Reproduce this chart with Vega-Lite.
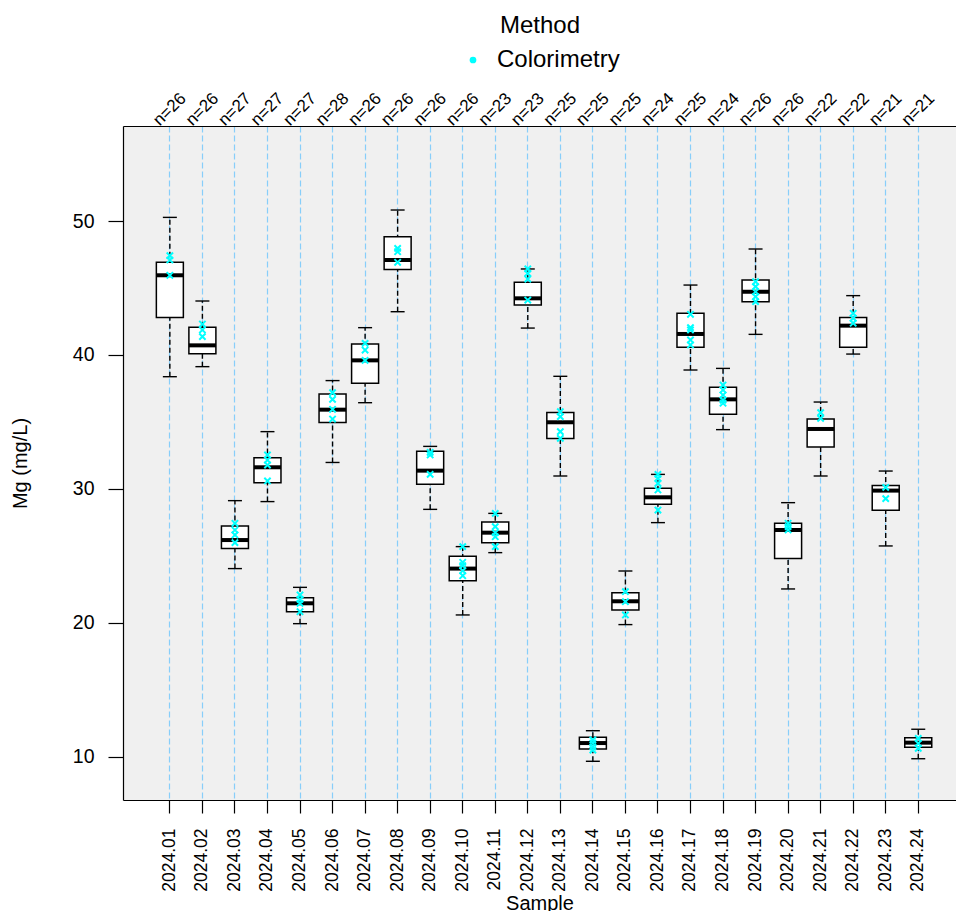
{
  "$schema": "https://vega.github.io/schema/vega-lite/v6.json",
  "width": 833,
  "height": 674,
  "autosize": "none",
  "padding": {"left": 123, "top": 126, "right": 0, "bottom": 111},
  "config": {
    "view": {"fill": "#f0f0f0", "stroke": null},
    "font": "Liberation Sans",
    "axis": {"domainColor": "#000000", "tickColor": "#000000", "labelColor": "#000000", "titleColor": "#000000", "labelFont": "Liberation Sans", "titleFont": "Liberation Sans", "titleFontWeight": "normal", "domainWidth": 1.2, "tickWidth": 1.2, "labelOverlap": false},
    "legend": {"labelFont": "Liberation Sans", "titleFont": "Liberation Sans"}
  },
  "datasets": {
    "summary": [
      {"Sample": "2024.01", "Key": "2024.01|n=26", "lo": 38.38, "q1": 42.79, "med": 45.95, "q3": 46.92, "hi": 50.27},
      {"Sample": "2024.02", "Key": "2024.02|n=26", "lo": 39.13, "q1": 40.10, "med": 40.72, "q3": 42.07, "hi": 44.03},
      {"Sample": "2024.03", "Key": "2024.03|n=27", "lo": 24.06, "q1": 25.55, "med": 26.19, "q3": 27.24, "hi": 29.13},
      {"Sample": "2024.04", "Key": "2024.04|n=27", "lo": 29.06, "q1": 30.47, "med": 31.62, "q3": 32.34, "hi": 34.28},
      {"Sample": "2024.05", "Key": "2024.05|n=27", "lo": 19.95, "q1": 20.84, "med": 21.47, "q3": 21.89, "hi": 22.66},
      {"Sample": "2024.06", "Key": "2024.06|n=28", "lo": 31.98, "q1": 34.97, "med": 35.92, "q3": 37.09, "hi": 38.09},
      {"Sample": "2024.07", "Key": "2024.07|n=26", "lo": 36.44, "q1": 37.89, "med": 39.60, "q3": 40.82, "hi": 42.04},
      {"Sample": "2024.08", "Key": "2024.08|n=26", "lo": 43.23, "q1": 46.39, "med": 47.09, "q3": 48.83, "hi": 50.82},
      {"Sample": "2024.09", "Key": "2024.09|n=26", "lo": 28.48, "q1": 30.35, "med": 31.37, "q3": 32.81, "hi": 33.18},
      {"Sample": "2024.10", "Key": "2024.10|n=26", "lo": 20.60, "q1": 23.16, "med": 24.06, "q3": 24.98, "hi": 25.70},
      {"Sample": "2024.11", "Key": "2024.11|n=23", "lo": 25.25, "q1": 25.99, "med": 26.74, "q3": 27.54, "hi": 28.18},
      {"Sample": "2024.12", "Key": "2024.12|n=23", "lo": 42.01, "q1": 43.73, "med": 44.23, "q3": 45.42, "hi": 46.42},
      {"Sample": "2024.13", "Key": "2024.13|n=25", "lo": 30.97, "q1": 33.76, "med": 34.98, "q3": 35.70, "hi": 38.41},
      {"Sample": "2024.14", "Key": "2024.14|n=25", "lo": 9.68, "q1": 10.60, "med": 11.04, "q3": 11.47, "hi": 11.96},
      {"Sample": "2024.15", "Key": "2024.15|n=25", "lo": 19.88, "q1": 20.97, "med": 21.62, "q3": 22.26, "hi": 23.88},
      {"Sample": "2024.16", "Key": "2024.16|n=24", "lo": 27.49, "q1": 28.86, "med": 29.38, "q3": 30.05, "hi": 31.09},
      {"Sample": "2024.17", "Key": "2024.17|n=25", "lo": 38.88, "q1": 40.57, "med": 41.57, "q3": 43.11, "hi": 45.22},
      {"Sample": "2024.18", "Key": "2024.18|n=24", "lo": 34.43, "q1": 35.57, "med": 36.69, "q3": 37.59, "hi": 39.00},
      {"Sample": "2024.19", "Key": "2024.19|n=26", "lo": 41.54, "q1": 43.98, "med": 44.72, "q3": 45.60, "hi": 47.91},
      {"Sample": "2024.20", "Key": "2024.20|n=26", "lo": 22.54, "q1": 24.82, "med": 26.94, "q3": 27.44, "hi": 28.98},
      {"Sample": "2024.21", "Key": "2024.21|n=22", "lo": 30.97, "q1": 33.13, "med": 34.48, "q3": 35.22, "hi": 36.49},
      {"Sample": "2024.22", "Key": "2024.22|n=22", "lo": 40.07, "q1": 40.57, "med": 42.19, "q3": 42.79, "hi": 44.43},
      {"Sample": "2024.23", "Key": "2024.23|n=21", "lo": 25.75, "q1": 28.41, "med": 29.88, "q3": 30.27, "hi": 31.34},
      {"Sample": "2024.24", "Key": "2024.24|n=21", "lo": 9.87, "q1": 10.72, "med": 11.07, "q3": 11.44, "hi": 12.07}
    ],
    "points": [
      {"Sample": "2024.01", "Method": "Colorimetry", "Mg": 47.41},
      {"Sample": "2024.01", "Method": "Colorimetry", "Mg": 47.09},
      {"Sample": "2024.01", "Method": "Colorimetry", "Mg": 45.95},
      {"Sample": "2024.02", "Method": "Colorimetry", "Mg": 42.31},
      {"Sample": "2024.02", "Method": "Colorimetry", "Mg": 41.87},
      {"Sample": "2024.02", "Method": "Colorimetry", "Mg": 41.37},
      {"Sample": "2024.03", "Method": "Colorimetry", "Mg": 27.44},
      {"Sample": "2024.03", "Method": "Colorimetry", "Mg": 26.94},
      {"Sample": "2024.03", "Method": "Colorimetry", "Mg": 26.57},
      {"Sample": "2024.03", "Method": "Colorimetry", "Mg": 26.00},
      {"Sample": "2024.04", "Method": "Colorimetry", "Mg": 32.54},
      {"Sample": "2024.04", "Method": "Colorimetry", "Mg": 32.16},
      {"Sample": "2024.04", "Method": "Colorimetry", "Mg": 31.79},
      {"Sample": "2024.04", "Method": "Colorimetry", "Mg": 30.60},
      {"Sample": "2024.05", "Method": "Colorimetry", "Mg": 22.09},
      {"Sample": "2024.05", "Method": "Colorimetry", "Mg": 21.77},
      {"Sample": "2024.05", "Method": "Colorimetry", "Mg": 21.47},
      {"Sample": "2024.05", "Method": "Colorimetry", "Mg": 20.84},
      {"Sample": "2024.06", "Method": "Colorimetry", "Mg": 37.19},
      {"Sample": "2024.06", "Method": "Colorimetry", "Mg": 36.69},
      {"Sample": "2024.06", "Method": "Colorimetry", "Mg": 35.95},
      {"Sample": "2024.06", "Method": "Colorimetry", "Mg": 35.22},
      {"Sample": "2024.07", "Method": "Colorimetry", "Mg": 40.87},
      {"Sample": "2024.07", "Method": "Colorimetry", "Mg": 40.37},
      {"Sample": "2024.07", "Method": "Colorimetry", "Mg": 39.60},
      {"Sample": "2024.08", "Method": "Colorimetry", "Mg": 47.96},
      {"Sample": "2024.08", "Method": "Colorimetry", "Mg": 47.71},
      {"Sample": "2024.08", "Method": "Colorimetry", "Mg": 46.92},
      {"Sample": "2024.09", "Method": "Colorimetry", "Mg": 32.74},
      {"Sample": "2024.09", "Method": "Colorimetry", "Mg": 32.54},
      {"Sample": "2024.09", "Method": "Colorimetry", "Mg": 31.09},
      {"Sample": "2024.10", "Method": "Colorimetry", "Mg": 25.70},
      {"Sample": "2024.10", "Method": "Colorimetry", "Mg": 24.53},
      {"Sample": "2024.10", "Method": "Colorimetry", "Mg": 24.28},
      {"Sample": "2024.10", "Method": "Colorimetry", "Mg": 23.90},
      {"Sample": "2024.10", "Method": "Colorimetry", "Mg": 23.53},
      {"Sample": "2024.11", "Method": "Colorimetry", "Mg": 28.18},
      {"Sample": "2024.11", "Method": "Colorimetry", "Mg": 27.19},
      {"Sample": "2024.11", "Method": "Colorimetry", "Mg": 26.74},
      {"Sample": "2024.11", "Method": "Colorimetry", "Mg": 26.44},
      {"Sample": "2024.11", "Method": "Colorimetry", "Mg": 25.70},
      {"Sample": "2024.12", "Method": "Colorimetry", "Mg": 46.42},
      {"Sample": "2024.12", "Method": "Colorimetry", "Mg": 46.10},
      {"Sample": "2024.12", "Method": "Colorimetry", "Mg": 45.67},
      {"Sample": "2024.12", "Method": "Colorimetry", "Mg": 44.10},
      {"Sample": "2024.13", "Method": "Colorimetry", "Mg": 35.77},
      {"Sample": "2024.13", "Method": "Colorimetry", "Mg": 35.40},
      {"Sample": "2024.13", "Method": "Colorimetry", "Mg": 34.28},
      {"Sample": "2024.13", "Method": "Colorimetry", "Mg": 33.78},
      {"Sample": "2024.14", "Method": "Colorimetry", "Mg": 11.27},
      {"Sample": "2024.14", "Method": "Colorimetry", "Mg": 11.04},
      {"Sample": "2024.14", "Method": "Colorimetry", "Mg": 10.75},
      {"Sample": "2024.14", "Method": "Colorimetry", "Mg": 10.52},
      {"Sample": "2024.15", "Method": "Colorimetry", "Mg": 22.34},
      {"Sample": "2024.15", "Method": "Colorimetry", "Mg": 21.59},
      {"Sample": "2024.15", "Method": "Colorimetry", "Mg": 20.60},
      {"Sample": "2024.16", "Method": "Colorimetry", "Mg": 31.09},
      {"Sample": "2024.16", "Method": "Colorimetry", "Mg": 30.79},
      {"Sample": "2024.16", "Method": "Colorimetry", "Mg": 30.42},
      {"Sample": "2024.16", "Method": "Colorimetry", "Mg": 29.93},
      {"Sample": "2024.16", "Method": "Colorimetry", "Mg": 28.43},
      {"Sample": "2024.17", "Method": "Colorimetry", "Mg": 43.04},
      {"Sample": "2024.17", "Method": "Colorimetry", "Mg": 42.04},
      {"Sample": "2024.17", "Method": "Colorimetry", "Mg": 41.87},
      {"Sample": "2024.17", "Method": "Colorimetry", "Mg": 41.12},
      {"Sample": "2024.17", "Method": "Colorimetry", "Mg": 40.75},
      {"Sample": "2024.18", "Method": "Colorimetry", "Mg": 37.76},
      {"Sample": "2024.18", "Method": "Colorimetry", "Mg": 37.39},
      {"Sample": "2024.18", "Method": "Colorimetry", "Mg": 37.01},
      {"Sample": "2024.18", "Method": "Colorimetry", "Mg": 36.64},
      {"Sample": "2024.18", "Method": "Colorimetry", "Mg": 36.40},
      {"Sample": "2024.19", "Method": "Colorimetry", "Mg": 45.47},
      {"Sample": "2024.19", "Method": "Colorimetry", "Mg": 45.10},
      {"Sample": "2024.19", "Method": "Colorimetry", "Mg": 44.72},
      {"Sample": "2024.19", "Method": "Colorimetry", "Mg": 44.35},
      {"Sample": "2024.19", "Method": "Colorimetry", "Mg": 43.98},
      {"Sample": "2024.20", "Method": "Colorimetry", "Mg": 27.44},
      {"Sample": "2024.20", "Method": "Colorimetry", "Mg": 27.19},
      {"Sample": "2024.20", "Method": "Colorimetry", "Mg": 26.94},
      {"Sample": "2024.21", "Method": "Colorimetry", "Mg": 35.70},
      {"Sample": "2024.21", "Method": "Colorimetry", "Mg": 35.27},
      {"Sample": "2024.22", "Method": "Colorimetry", "Mg": 43.11},
      {"Sample": "2024.22", "Method": "Colorimetry", "Mg": 42.74},
      {"Sample": "2024.22", "Method": "Colorimetry", "Mg": 42.37},
      {"Sample": "2024.23", "Method": "Colorimetry", "Mg": 30.12},
      {"Sample": "2024.23", "Method": "Colorimetry", "Mg": 29.28},
      {"Sample": "2024.24", "Method": "Colorimetry", "Mg": 11.39},
      {"Sample": "2024.24", "Method": "Colorimetry", "Mg": 11.01},
      {"Sample": "2024.24", "Method": "Colorimetry", "Mg": 10.64}
    ]
  },
  "layer": [
    {
      "data": {"name": "summary"},
      "mark": {"type": "point", "opacity": 0},
      "encoding": {
        "x": {
          "field": "Key", "type": "ordinal", "sort": null,
          "scale": {"type": "band", "paddingInner": 0.4, "paddingOuter": 1.0, "align": 0.57},
          "axis": {
            "orient": "top", "title": null, "ticks": false, "grid": true, "bandPosition": 0.5,
            "gridColor": "#87cefa", "gridDash": [6, 3], "gridWidth": 1.2,
            "labelExpr": "split(datum.value, '|')[1]",
            "labelAngle": -45, "labelAlign": "center", "labelBaseline": "middle",
            "labelPadding": 17, "labelFontSize": 17
          }
        }
      }
    },
    {
      "data": {"name": "summary"},
      "layer": [
        {
          "mark": {"type": "rule", "color": "#000000", "strokeDash": [5, 3], "strokeWidth": 1.4, "opacity": 1},
          "encoding": {"y": {"field": "lo", "type": "quantitative"}, "y2": {"field": "hi"}}
        },
        {
          "mark": {"type": "tick", "color": "#000000", "size": 14, "thickness": 1.4, "opacity": 1},
          "encoding": {"y": {"field": "lo", "type": "quantitative"}}
        },
        {
          "mark": {"type": "tick", "color": "#000000", "size": 14, "thickness": 1.4, "opacity": 1},
          "encoding": {"y": {"field": "hi", "type": "quantitative"}}
        },
        {
          "mark": {"type": "bar", "size": 27, "fill": "#ffffff", "stroke": "#000000", "strokeWidth": 1.5, "opacity": 1},
          "encoding": {"y": {"field": "q1", "type": "quantitative"}, "y2": {"field": "q3"}}
        },
        {
          "mark": {"type": "tick", "color": "#000000", "size": 27, "thickness": 4, "opacity": 1},
          "encoding": {"y": {"field": "med", "type": "quantitative"}}
        },
        {
          "data": {"name": "points"},
          "mark": {"type": "point", "shape": "M-1,-1L1,1M-1,1L1,-1", "filled": true, "stroke": "#00ffff", "size": 40, "strokeWidth": 2, "opacity": 1},
          "encoding": {
            "y": {"field": "Mg", "type": "quantitative"},
            "color": {
              "field": "Method", "type": "nominal",
              "scale": {"domain": ["Colorimetry"], "range": ["#00ffff"]},
              "legend": {
                "orient": "none", "legendX": 338, "legendY": -112,
                "title": "Method", "titleFontSize": 24, "titleFontWeight": "normal", "titleColor": "#000000",
                "titleAnchor": "middle", "titleAlign": "center", "titlePadding": 10,
                "labelFontSize": 24, "labelColor": "#000000", "labelOffset": 12,
                "symbolType": "circle", "symbolSize": 45, "symbolFillColor": "#00ffff", "symbolStrokeWidth": 0, "symbolOpacity": 1
              }
            }
          }
        }
      ],
      "encoding": {
        "x": {
          "field": "Sample", "type": "ordinal", "sort": null,
          "scale": {"type": "band", "paddingInner": 0.4, "paddingOuter": 1.0, "align": 0.57},
          "axis": {
            "orient": "bottom", "title": "Sample", "titleFontSize": 20, "titlePadding": 2, "bandPosition": 0.5,
            "labelAngle": -90, "tickSize": 13, "labelPadding": 15, "labelFontSize": 17.5, "grid": false
          }
        },
        "y": {
          "type": "quantitative",
          "scale": {"domain": [6.79, 57.09], "nice": false, "zero": false},
          "axis": {
            "title": "Mg (mg/L)", "titleFontSize": 20, "titlePadding": 42,
            "values": [10, 20, 30, 40, 50], "tickSize": 15, "labelPadding": 14,
            "labelFontSize": 19.5, "grid": false
          }
        }
      }
    }
  ],
  "resolve": {"scale": {"x": "independent"}}
}
